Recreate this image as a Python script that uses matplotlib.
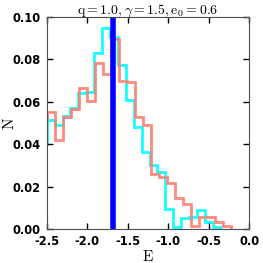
import numpy as np
import matplotlib
matplotlib.use('Agg')
import matplotlib.pyplot as plt

plt.rcParams['mathtext.fontset'] = 'cm'

# cyan histogram: bin range and heights (one extra bin left of the axis)
cyan_lo, cyan_hi = -2.595, -0.352
cyan_vals = [0.040, 0.0515, 0.049, 0.0535, 0.057, 0.064, 0.0645, 0.083, 0.0948,
             0.0904, 0.0775, 0.061, 0.0483, 0.0365, 0.0302, 0.027, 0.0097,
             0.0010, 0.0050, 0.0055, 0.0089, 0.0034, 0.0010]

# salmon histogram
red_lo, red_hi = -2.591, -0.230
red_vals = [0.052, 0.055, 0.042, 0.053, 0.0565, 0.0665, 0.0605, 0.0785, 0.073,
            0.0895, 0.070, 0.0695, 0.053, 0.049, 0.026, 0.0247, 0.0215, 0.0145,
            0.0118, 0.0014, 0.0055, 0.0055, 0.0034, 0.0014]

e_mark = -1.675
title = r'$\mathrm{q=1.0,\gamma=1.5,e_0=0.6}$'
xticks = [-2.5, -2.0, -1.5, -1.0, -0.5, 0.0]
yticks = [0.00, 0.02, 0.04, 0.06, 0.08, 0.10]

fig = plt.figure(figsize=(2.63, 2.63), dpi=100)
ax = fig.add_axes([0.177, 0.129, 0.771, 0.806])

cyan_edges = np.linspace(cyan_lo, cyan_hi, len(cyan_vals) + 1)
red_edges = np.linspace(red_lo, red_hi, len(red_vals) + 1)
ax.stairs(cyan_vals, cyan_edges, color='cyan', lw=2, alpha=0.9)
ax.stairs(red_vals, red_edges, color='salmon', lw=2, alpha=0.9)
ax.axvline(e_mark, color='blue', lw=4)

ax.set_xlim(-2.5, 0.0)
ax.set_ylim(0.0, 0.10)
ax.set_xticks(xticks)
ax.set_yticks(yticks)
ax.set_xticklabels(['%.1f' % t for t in xticks])
ax.set_yticklabels(['%.2f' % t for t in yticks])
ax.tick_params(direction='in', top=True, right=True, length=4, width=1,
               labelsize=8.3, pad=4)
for lab in ax.get_xticklabels() + ax.get_yticklabels():
    lab.set_fontweight('bold')
for s in ax.spines.values():
    s.set_color('0.3')

ax.set_xlabel(r'$\mathrm{E}$', fontsize=11, labelpad=1)
ax.set_ylabel(r'$\mathrm{N}$', fontsize=11)
ax.yaxis.set_label_coords(-0.145, 0.5)
ax.set_title(title, fontsize=10, pad=2)

fig.savefig('out.png', dpi=100)
